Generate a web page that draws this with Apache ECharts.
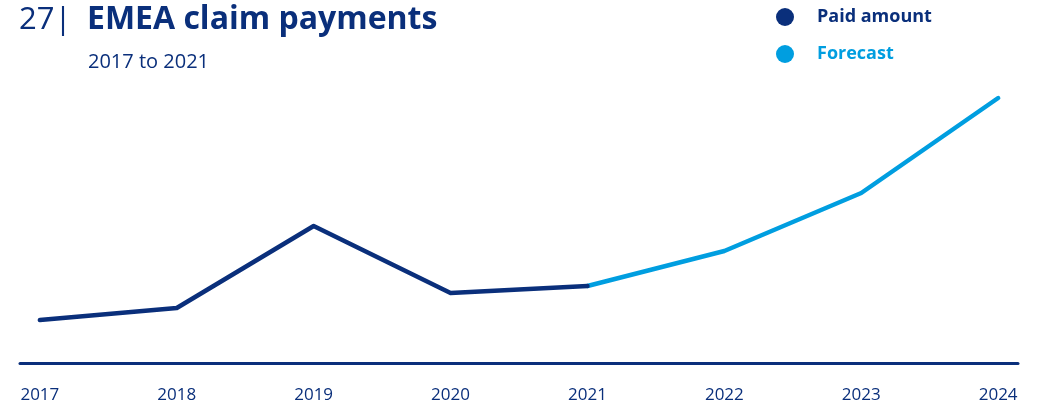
<!DOCTYPE html>
<html>
<head>
<meta charset="utf-8">
<script src="https://cdn.jsdelivr.net/npm/echarts@6/dist/echarts.min.js"></script>
<style>
  html, body { margin: 0; padding: 0; background: #fff; }
  #chart { width: 1047px; height: 404px; }
</style>
</head>
<body>
<div id="chart"></div>
<script>
// Claim payments (relative units): actuals to 2021, forecast from 2021 on
const years = [2017, 2018, 2019, 2020, 2021, 2022, 2023, 2024];
const paidYears = [2017, 2018, 2019, 2020, 2021];
const paidValues = [43, 55, 137, 70, 77];
const forecastYears = [2021, 2022, 2023, 2024];
const forecastValues = [77, 112, 170, 265];

const NAVY = '#0a2f7b';
const BLUE = '#009ee0';
const FONT = 'Open Sans';

const chart = echarts.init(document.getElementById('chart'), null, { renderer: 'canvas' });

chart.setOption({
  animation: false,
  textStyle: { fontFamily: FONT },
  title: [
    { text: '27|', left: 19, top: 5, padding: 0,
      textStyle: { fontFamily: FONT, fontSize: 31, fontWeight: 'normal', color: NAVY } },
    { text: 'EMEA claim payments', left: 87, top: 4, padding: 0,
      textStyle: { fontFamily: FONT, fontSize: 32, fontWeight: 'bold', color: NAVY } },
    { text: '2017 to 2021', left: 88, top: 52, padding: 0,
      textStyle: { fontFamily: FONT, fontSize: 20, fontWeight: 'normal', color: NAVY } }
  ],
  legend: {
    orient: 'vertical',
    left: 776,
    top: 8,
    padding: 0,
    icon: 'circle',
    itemWidth: 18,
    itemHeight: 18,
    itemGap: 19,
    textStyle: { fontFamily: FONT, fontSize: 18, fontWeight: 'bold', padding: [0, 0, 0, 18] },
    data: [
      { name: 'Paid amount', textStyle: { color: NAVY } },
      { name: 'Forecast', textStyle: { color: BLUE } }
    ]
  },
  grid: { left: 20, right: 29, top: 63, bottom: 41, containLabel: false },
  xAxis: {
    type: 'value',
    min: 2016.855,
    max: 2024.145,
    axisLine: { show: true, lineStyle: { color: NAVY, width: 3 } },
    axisTick: { show: false },
    splitLine: { show: false },
    axisLabel: {
      customValues: years,
      formatter: v => String(v),
      margin: 24,
      color: NAVY,
      fontFamily: FONT,
      fontSize: 17
    }
  },
  yAxis: {
    type: 'value',
    min: 0,
    max: 300,
    show: false,
    splitLine: { show: false }
  },
  series: [
    {
      name: 'Paid amount',
      type: 'line',
      data: paidYears.map((y, i) => [y, paidValues[i]]),
      showSymbol: false,
      symbol: 'circle',
      color: NAVY,
      lineStyle: { color: NAVY, width: 4.5, cap: 'round', join: 'round' },
      z: 3
    },
    {
      name: 'Forecast',
      type: 'line',
      data: forecastYears.map((y, i) => [y, forecastValues[i]]),
      showSymbol: false,
      symbol: 'circle',
      color: BLUE,
      lineStyle: { color: BLUE, width: 4.5, cap: 'round', join: 'round' },
      z: 2
    }
  ]
});
</script>
</body>
</html>
